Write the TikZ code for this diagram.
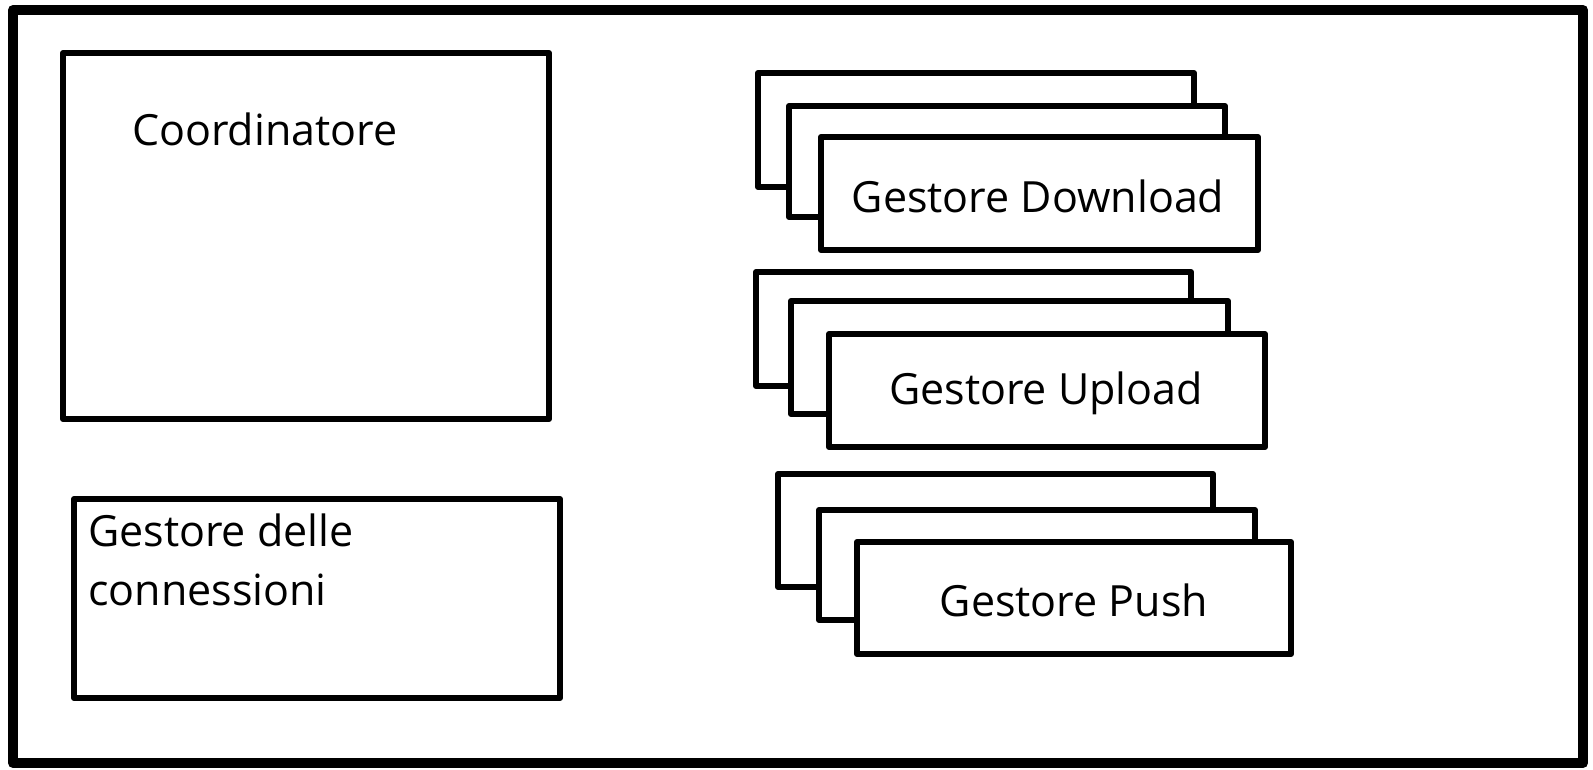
\documentclass[tikz,border=0pt]{standalone}
\usepackage{fontspec}
\setmainfont{Open Sans}
\begin{document}
\begin{tikzpicture}[x=1pt,y=-1pt,
  frame/.style={draw=black,line width=10pt,line join=round,inner sep=0pt,outer sep=0pt},
  box/.style={draw=black,fill=white,line width=6pt,line join=round,inner sep=0pt,outer sep=0pt},
  lbl/.style={font=\fontsize{43}{59}\selectfont,inner sep=0pt}]
\useasboundingbox (0,0) rectangle (1593,770);
\node[frame,minimum width=1570pt,minimum height=753pt] (outer) at (798,386.5) {};
\node[box,minimum width=486pt,minimum height=366pt] (coord) at (306,236) {};
\node[lbl,anchor=west] (coordtxt) at (132,129) {Coordinatore};
\node[box,minimum width=486pt,minimum height=199pt] (conn) at (317,598.5) {};
\node[lbl,anchor=north west,align=left] (conntxt) at (88,514) {Gestore delle\\connessioni};
% Download stack
\node[box,minimum width=436pt,minimum height=114pt] (dl3) at (976,130) {};
\node[box,minimum width=436pt,minimum height=111pt] (dl2) at (1007,161.5) {};
\node[box,minimum width=437pt,minimum height=113pt] (dl1) at (1039.5,193.5) {};
\node[lbl] (dltxt) at (1038,196) {Gestore Download};
% Upload stack
\node[box,minimum width=435pt,minimum height=114pt] (ul3) at (973.5,329) {};
\node[box,minimum width=437pt,minimum height=113pt] (ul2) at (1009.5,357.5) {};
\node[box,minimum width=436pt,minimum height=113pt] (ul1) at (1047,390.5) {};
\node[lbl] (ultxt) at (1046,393) {Gestore Upload};
% Push stack
\node[box,minimum width=435pt,minimum height=113pt] (ps3) at (995.5,530.5) {};
\node[box,minimum width=436pt,minimum height=110pt] (ps2) at (1037,565) {};
\node[box,minimum width=434pt,minimum height=112pt] (ps1) at (1074,598) {};
\node[lbl] (pstxt) at (1074,600) {Gestore Push};
\end{tikzpicture}
\end{document}
